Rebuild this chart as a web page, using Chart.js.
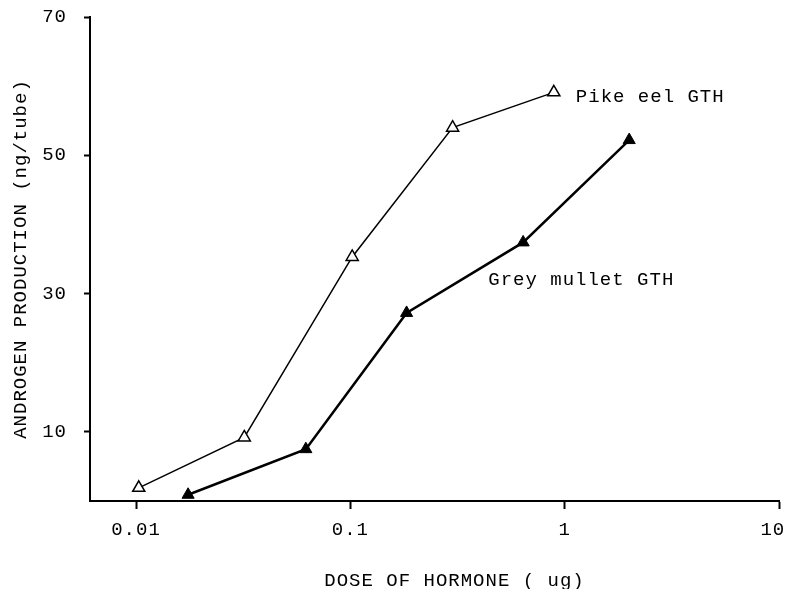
<!DOCTYPE html>
<html lang="en">
<head>
<meta charset="UTF-8">
<title>Androgen production vs dose of hormone</title>
<script src="https://cdn.jsdelivr.net/npm/chart.js@4.4.1/dist/chart.umd.min.js"></script>
<style>
    html, body { margin: 0; padding: 0; background: #ffffff; }
    .chart-container { position: relative; width: 785px; height: 589px; }
</style>
</head>
<body>
<div class="chart-container">
    <canvas id="doseChart"></canvas>
</div>
<script>
    // --- Data ---
    const pikeDose = [0.0103, 0.032, 0.102, 0.30, 0.89];
    const pikeAndrogen = [1.9, 9.2, 35.3, 54.0, 59.1];
    const mulletDose = [0.0175, 0.062, 0.183, 0.64, 2.0];
    const mulletAndrogen = [0.9, 7.5, 27.2, 37.4, 52.2];
    const xTicks = [0.01, 0.1, 1, 10];
    const yTicks = [10, 30, 50, 70];
    const seriesNames = ['Pike eel GTH', 'Grey mullet GTH'];
    const xTitle = 'DOSE OF HORMONE ( ug)';

    const toPoints = (xs, ys) => xs.map((x, i) => ({ x: x, y: ys[i] }));
    const monoFamily = '"Liberation Mono", "DejaVu Sans Mono", monospace';
    const typeFont = { family: monoFamily, size: 19 };

    // typewriter look: a little extra space between letters for all text
    const typewriter = {
        id: 'typewriter',
        beforeDraw(chart) { chart.ctx.letterSpacing = '1px'; }
    };

    // Curve labels next to the lines, plus the x axis title (sits a bit right of centre)
    const curveLabels = {
        id: 'curveLabels',
        afterDatasetsDraw(chart) {
            const { ctx, chartArea, scales: { x, y } } = chart;
            ctx.save();
            ctx.font = '19px ' + monoFamily;
            ctx.fillStyle = '#000';
            ctx.textBaseline = 'middle';
            ctx.textAlign = 'left';
            // first series: to the right of its last point
            const last = pikeDose.length - 1;
            ctx.fillText(seriesNames[0], x.getPixelForValue(pikeDose[last]) + 22, y.getPixelForValue(pikeAndrogen[last]) + 5);
            // second series: below the line, between the 4th and 5th point
            ctx.fillText(seriesNames[1], x.getPixelForValue(0.44), y.getPixelForValue(32.0));
            // axis title
            ctx.textAlign = 'center';
            ctx.fillText(xTitle, (chartArea.left + chartArea.right) / 2 + 20, chartArea.bottom + 80);
            ctx.restore();
        }
    };

    new Chart(document.getElementById('doseChart'), {
        type: 'line',
        data: {
            datasets: [{
                label: seriesNames[0],
                data: toPoints(pikeDose, pikeAndrogen),
                borderColor: '#000',
                borderWidth: 1.5,
                pointStyle: 'triangle',
                pointRadius: 7,
                pointBackgroundColor: '#fff',
                pointBorderColor: '#000',
                pointBorderWidth: 1.5
            }, {
                label: seriesNames[1],
                data: toPoints(mulletDose, mulletAndrogen),
                borderColor: '#000',
                borderWidth: 2.5,
                pointStyle: 'triangle',
                pointRadius: 7,
                pointBackgroundColor: '#000',
                pointBorderColor: '#000',
                pointBorderWidth: 1
            }]
        },
        options: {
            responsive: true,
            maintainAspectRatio: false,
            animation: false,
            layout: { autoPadding: false, padding: { top: 17, right: 6, left: 0, bottom: 0 } },
            plugins: {
                legend: { display: false },
                tooltip: { enabled: false }
            },
            scales: {
                x: {
                    type: 'logarithmic',
                    min: 0.0061,
                    max: 10,
                    afterBuildTicks: (scale) => { scale.ticks = xTicks.map(v => ({ value: v })); },
                    afterFit: (scale) => {
                        scale.height = 88;
                        scale.paddingLeft = 0;
                        scale.paddingRight = 0;
                    },
                    grid: { drawOnChartArea: false, tickLength: 8, tickWidth: 2, color: '#000' },
                    border: { color: '#000', width: 2 },
                    ticks: {
                        color: '#000',
                        font: typeFont,
                        padding: 10,
                        maxRotation: 0,
                        autoSkip: false,
                        // last label pulled in a little so it stays on the canvas
                        callback: (v) => v === 10 ? '10 ' : String(v)
                    }
                },
                y: {
                    min: 0,
                    max: 70,
                    afterBuildTicks: (scale) => { scale.ticks = yTicks.map(v => ({ value: v })); },
                    afterFit: (scale) => {
                        scale.width = 90;
                        scale.paddingTop = 0;
                        scale.paddingBottom = 0;
                    },
                    grid: { drawOnChartArea: false, tickLength: 6, tickWidth: 2, color: '#000' },
                    border: { color: '#000', width: 2 },
                    ticks: { color: '#000', font: typeFont, padding: 17 },
                    title: {
                        display: true,
                        text: 'ANDROGEN PRODUCTION (ng/tube)',
                        color: '#000',
                        font: typeFont,
                        padding: { top: 10, bottom: 0 }
                    }
                }
            }
        },
        plugins: [typewriter, curveLabels]
    });
</script>
</body>
</html>
